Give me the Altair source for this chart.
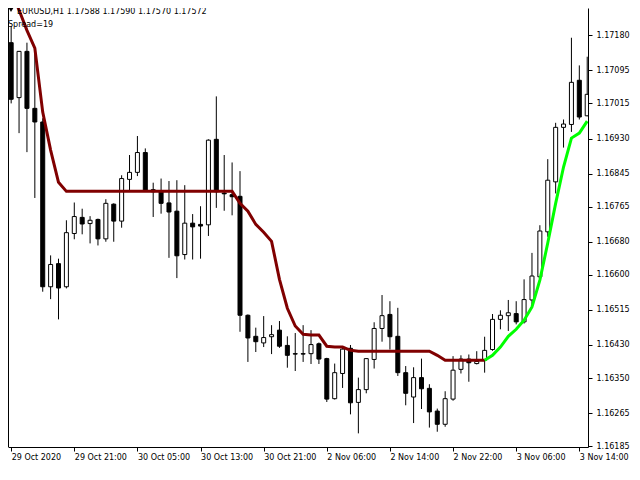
import altair as alt
import pandas as pd

# ---- data (EURUSD H1 candles) ----
opens = [1.17162, 1.17029, 1.17141, 1.17003, 1.16970, 1.16571, 1.16627, 1.16571, 1.16700, 1.16739,
         1.16724, 1.16734, 1.16687, 1.16771, 1.16730, 1.16831, 1.16848, 1.16896, 1.16806, 1.16801,
         1.16774, 1.16754, 1.16649, 1.16725, 1.16722, 1.16721, 1.16928, 1.16798, 1.16794, 1.16790,
         1.16502, 1.16451, 1.16435, 1.16450, 1.16466, 1.16429, 1.16409, 1.16409, 1.16409, 1.16433,
         1.16397, 1.16300, 1.16361, 1.16422, 1.16291, 1.16322, 1.16395, 1.16470, 1.16504, 1.16451,
         1.16363, 1.16304, 1.16351, 1.16325, 1.16270, 1.16238, 1.16299, 1.16371, 1.16396, 1.16385,
         1.16393, 1.16419, 1.16492, 1.16501, 1.16506, 1.16486, 1.16539, 1.16595, 1.16704, 1.16825,
         1.16957, 1.16964, 1.17071, 1.16985]
highs = [1.17202, 1.17142, 1.17162, 1.17144, 1.16979, 1.16647, 1.16639, 1.16732, 1.16775, 1.16760,
         1.16742, 1.16736, 1.16783, 1.16773, 1.16841, 1.16890, 1.16936, 1.16906, 1.16823, 1.16833,
         1.16827, 1.16829, 1.16817, 1.16747, 1.16766, 1.16928, 1.17032, 1.16890, 1.16872, 1.16851,
         1.16504, 1.16472, 1.16500, 1.16478, 1.16488, 1.16451, 1.16459, 1.16478, 1.16466, 1.16436,
         1.16399, 1.16385, 1.16425, 1.16430, 1.16351, 1.16398, 1.16485, 1.16551, 1.16536, 1.16520,
         1.16379, 1.16376, 1.16397, 1.16335, 1.16276, 1.16318, 1.16403, 1.16405, 1.16407, 1.16415,
         1.16450, 1.16505, 1.16514, 1.16539, 1.16536, 1.16589, 1.16653, 1.16720, 1.16880, 1.16968,
         1.16976, 1.17174, 1.17107, 1.17128]
lows = [1.17015, 1.16943, 1.16897, 1.16786, 1.16559, 1.16541, 1.16492, 1.16567, 1.16686, 1.16698,
        1.16676, 1.16671, 1.16680, 1.16680, 1.16714, 1.16805, 1.16839, 1.16801, 1.16740, 1.16748,
        1.16641, 1.16592, 1.16637, 1.16637, 1.16639, 1.16694, 1.16762, 1.16755, 1.16744, 1.16462,
        1.16389, 1.16413, 1.16425, 1.16408, 1.16423, 1.16375, 1.16367, 1.16389, 1.16384, 1.16384,
        1.16292, 1.16298, 1.16326, 1.16262, 1.16216, 1.16313, 1.16373, 1.16438, 1.16419, 1.16355,
        1.16284, 1.16241, 1.16275, 1.16230, 1.16220, 1.16232, 1.16295, 1.16361, 1.16341, 1.16383,
        1.16363, 1.16416, 1.16468, 1.16464, 1.16480, 1.16482, 1.16524, 1.16594, 1.16692, 1.16797,
        1.16908, 1.16946, 1.16976, 1.16984]
closes = [1.17025, 1.17141, 1.17003, 1.16970, 1.16571, 1.16625, 1.16568, 1.16702, 1.16741, 1.16723,
          1.16732, 1.16687, 1.16773, 1.16730, 1.16833, 1.16848, 1.16896, 1.16803, 1.16801, 1.16773,
          1.16752, 1.16646, 1.16725, 1.16716, 1.16718, 1.16926, 1.16801, 1.16796, 1.16789, 1.16502,
          1.16447, 1.16438, 1.16448, 1.16455, 1.16427, 1.16405, 1.16408, 1.16408, 1.16431, 1.16396,
          1.16299, 1.16363, 1.16420, 1.16290, 1.16322, 1.16397, 1.16470, 1.16501, 1.16450, 1.16363,
          1.16313, 1.16351, 1.16324, 1.16268, 1.16238, 1.16300, 1.16369, 1.16396, 1.16387, 1.16390,
          1.16417, 1.16492, 1.16502, 1.16508, 1.16486, 1.16540, 1.16597, 1.16706, 1.16829, 1.16957,
          1.16965, 1.17066, 1.16982, 1.17037]

# indicator line (down part dark red, up part lime)
ma_values = [1.17289, 1.17241, 1.17192, 1.17149, 1.16994, 1.16902, 1.16824, 1.16802, 1.16802, 1.16802,
             1.16802, 1.16802, 1.16802, 1.16802, 1.16802, 1.16802, 1.16802, 1.16802, 1.16802, 1.16802,
             1.16802, 1.16802, 1.16802, 1.16802, 1.16802, 1.16802, 1.16802, 1.16802, 1.16802, 1.16773,
             1.16754, 1.16722, 1.16703, 1.16681, 1.16589, 1.16519, 1.16476, 1.16456, 1.16454, 1.16454,
             1.16427, 1.16425, 1.16425, 1.16417, 1.16415, 1.16415, 1.16415, 1.16415, 1.16415, 1.16415,
             1.16415, 1.16415, 1.16415, 1.16415, 1.16405, 1.16393, 1.16393, 1.16393, 1.16393, 1.16393,
             1.16393, 1.16405, 1.16425, 1.16451, 1.16468, 1.16490, 1.16522, 1.16587, 1.16677, 1.16773,
             1.16861, 1.16931, 1.16943, 1.16972]
ma_trend = ["down"] * 61 + ["up"] * 13

x_tick_bars = [0, 8, 16, 24, 32, 40, 48, 56, 64, 72]
x_tick_labels = ["29 Oct 2020", "29 Oct 21:00", "30 Oct 05:00", "30 Oct 13:00", "30 Oct 21:00",
                 "2 Nov 06:00", "2 Nov 14:00", "2 Nov 22:00", "3 Nov 06:00", "3 Nov 14:00"]
y_ticks = [1.16185, 1.16265, 1.16350, 1.16430, 1.16515, 1.16600, 1.16680,
           1.16765, 1.16845, 1.16930, 1.17015, 1.17095, 1.17180]
header_text = "EURUSD,H1  1.17588 1.17590 1.17570 1.17572"
spread_text = "Spread=19"

# ---- tables ----
n = len(opens)
candles = pd.DataFrame({"bar": list(range(n)), "open": opens, "high": highs,
                        "low": lows, "close": closes})
candles["top"] = candles[["open", "close"]].max(axis=1)
candles["bottom"] = candles[["open", "close"]].min(axis=1)
candles["dir"] = ["bull" if c >= o else "bear" for o, c in zip(opens, closes)]

rows = []
first_up = ma_trend.index("up")
for i, (v, t) in enumerate(zip(ma_values, ma_trend)):
    if t == "down":
        rows.append({"bar": i, "ma": v, "series": "down"})
    if t == "up" or i == first_up - 1:
        rows.append({"bar": i, "ma": v, "series": "up"})
line_df = pd.DataFrame(rows)

FONT = "DejaVu Sans"
W, H = 580, 439

xs = alt.Scale(domain=[-0.4, 73.1], nice=False, zero=False, padding=0)
ys = alt.Scale(domain=[1.16183, 1.17246], nice=False, zero=False, padding=0)

label_arr = "[" + ",".join("'%s'" % s for s in x_tick_labels) + "]"
x_axis = alt.Axis(values=x_tick_bars, labelExpr=label_arr + "[round(datum.value/8)]",
                  labelAlign="left", labelBaseline="top", labelPadding=2, tickSize=4,
                  grid=False, domainColor="black", tickColor="black", labelColor="black",
                  labelFont=FONT, labelFontSize=8, labelOverlap=False, labelFlush=False,
                  title=None)
y_axis = alt.Axis(orient="right", values=y_ticks, format=".5f", tickSize=4, labelPadding=4,
                  grid=False, domainColor="black", tickColor="black", labelColor="black",
                  labelFont=FONT, labelFontSize=8, labelOverlap=False, labelFlush=False,
                  labelBaseline="middle", title=None)

base = alt.Chart(candles)

wicks = base.mark_rule(color="black", strokeWidth=1, clip=True).encode(
    x=alt.X("bar:Q", scale=xs, axis=x_axis),
    y=alt.Y("low:Q", scale=ys, axis=y_axis),
    y2="high:Q",
)

bodies = base.mark_bar(size=4, stroke="black", strokeWidth=1, clip=True).encode(
    x=alt.X("bar:Q", scale=xs, axis=x_axis),
    y=alt.Y("bottom:Q", scale=ys, axis=y_axis),
    y2="top:Q",
    fill=alt.Fill("dir:N", scale=alt.Scale(domain=["bull", "bear"], range=["white", "black"]),
                  legend=None),
)

line = alt.Chart(line_df).mark_line(strokeWidth=3, clip=True).encode(
    x=alt.X("bar:Q", scale=xs, axis=x_axis),
    y=alt.Y("ma:Q", scale=ys, axis=y_axis),
    color=alt.Color("series:N", scale=alt.Scale(domain=["down", "up"], range=["#800000", "#00ff00"]),
                    legend=None),
)

header = alt.Chart(pd.DataFrame({"t": [header_text]})).mark_text(
    font=FONT, fontSize=8, align="left", baseline="alphabetic", color="black"
).encode(x=alt.value(9), y=alt.value(6), text="t:N")

spread = alt.Chart(pd.DataFrame({"t": [spread_text]})).mark_text(
    font=FONT, fontSize=8, align="left", baseline="alphabetic", color="black"
).encode(x=alt.value(0), y=alt.value(19), text="t:N")

icon = alt.Chart(pd.DataFrame({"t": ["v"]})).mark_point(
    shape="triangle-down", filled=True, color="black", size=22, opacity=1
).encode(x=alt.value(3), y=alt.value(2))

border = alt.Chart(pd.DataFrame({"t": [0]})).mark_rule(color="black", strokeWidth=1).encode(
    x=alt.value(0.5), y=alt.value(0), y2=alt.value(H)
)

chart = alt.layer(wicks, bodies, line, header, spread, icon, border).properties(
    width=W, height=H,
    autosize=alt.AutoSizeParams(type="none"),
    padding={"left": 0, "top": 0, "right": 43, "bottom": 16},
    background="white",
).configure_view(strokeWidth=0)

chart.save("out.html", embed_options={"renderer": "svg", "actions": False})
